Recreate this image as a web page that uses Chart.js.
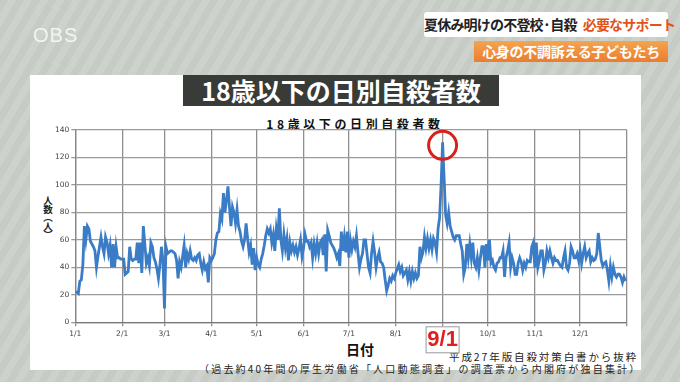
<!DOCTYPE html>
<html>
<head>
<meta charset="utf-8">
<script src="https://cdn.jsdelivr.net/npm/chart.js@4.4.1/dist/chart.umd.min.js"></script>
<style>
    body {
        margin: 0;
        width: 680px;
        height: 382px;
        overflow: hidden;
        position: relative;
        font-family: "Noto Sans CJK JP", "Noto Sans", sans-serif;
        background: repeating-linear-gradient(120deg, #c6cbc5 0 7px, #cdd2cc 7px 14px);
    }
    .abs { position: absolute; white-space: nowrap; }
    #obs { left: 33px; top: 24px; font: 20px "Liberation Sans", sans-serif; color: rgba(255,255,255,0.8); letter-spacing: 1px; }
    #cap1 { left: 424px; top: 12px; width: 244px; height: 25px; background: #fff; border-radius: 3px;
            font-weight: bold; font-size: 14px; line-height: 25px; text-align: center; color: #222; letter-spacing: -0.8px; }
    #cap1 span { color: #e0541c; margin-left: 6px; }
    #cap2 { left: 474px; top: 41px; width: 194px; height: 21px; background: linear-gradient(#f4a450, #eb7d2e);
            font-weight: bold; font-size: 14px; line-height: 21px; text-align: center; color: #fff; letter-spacing: -0.3px; }
    #panel { left: 30px; top: 75px; width: 611px; height: 295px; background: #fff; }
    #heading { left: 183px; top: 75px; width: 316px; height: 31px; background: #383b38; color: #fff;
               font-weight: bold; font-size: 25px; line-height: 31px; text-align: center; }
    #title { left: 0; width: 680px; top: 115px; text-align: center; font-size: 12px; font-weight: bold; letter-spacing: 3.6px; color: #111; padding-left: 30px; box-sizing: border-box; }
    #ytitle { left: 41px; top: 196px; writing-mode: vertical-rl; font-size: 9.5px; font-weight: bold; color: #222; letter-spacing: -1px; }
    #xtitle { left: 346px; top: 339px; font-size: 14px; font-weight: bold; color: #111; }
    #src1 { left: 449px; top: 349px; font-size: 10.5px; color: #222; letter-spacing: 1.9px; }
    #src2 { left: 199px; top: 361px; font-size: 10px; color: #222; letter-spacing: 2.2px; }
    #wrap { left: 30px; top: 106px; width: 611px; height: 264px; }
</style>
</head>
<body>
<div class="abs" id="obs">OBS</div>
<div class="abs" id="cap1">夏休み明けの不登校·自殺<span>必要なサポート</span></div>
<div class="abs" id="cap2">心身の不調訴える子どもたち</div>
<div class="abs" id="panel"></div>
<div class="abs" id="heading">18歳以下の日別自殺者数</div>
<div class="abs" id="title">18歳以下の日別自殺者数</div>
<div class="abs" id="ytitle">人数（人）</div>
<div class="abs" id="xtitle">日付</div>
<div class="abs" id="src1">平成27年版自殺対策白書から抜粋</div>
<div class="abs" id="src2">（過去約40年間の厚生労働省「人口動態調査」の調査票から内閣府が独自集計）</div>
<div class="abs" id="wrap"><canvas id="dailyChart" width="611" height="264"></canvas></div>

<script>
// Day index (0 = 1/1) where each month starts, and the tick text under it
const monthStarts = [0, 31, 59, 90, 120, 151, 181, 212, 243, 273, 304, 334, 365];
const monthLabels = ['1/1', '2/1', '3/1', '4/1', '5/1', '6/1', '7/1', '8/1', '9/1', '10/1', '11/1', '12/1', ''];
const yTicks = [0, 20, 40, 60, 80, 100, 120, 140];
const highlightDay = 243;  // 9/1
const highlightLabel = '9/1';

// Daily counts, one array per month
const jan = [22,22,21,30,31,42,70,60,70,68,59,57,55,52,40,48,55,62,55,50,62,58,50,56,40,57,40,55,47,47,46];
const feb = [46,46,35,36,37,55,46,45,46,46,58,43,58,36,70,57,43,47,41,58,55,47,44,39,32,42,55,45];
const mar = [10,55,50,51,52,52,51,50,45,32,44,40,48,56,40,50,46,52,46,45,47,45,49,50,43,38,44,39,41,29,47];
const apr = [45,47,50,60,65,66,79,75,94,80,89,99,84,70,84,80,72,82,70,66,59,55,60,72,61,51,56,42,54,38];
const may = [47,42,40,46,50,56,63,68,65,68,58,64,52,68,60,83,60,52,64,54,61,45,58,52,56,51,55,49,54,60,48];
const jun = [54,64,59,59,55,58,47,57,50,58,50,58,60,49,64,37,67,63,58,56,54,51,47,50,41,66,52,62,51,66];
const jul = [47,60,53,59,55,63,51,40,46,50,60,60,50,40,36,50,59,51,40,47,51,44,43,40,31,23,27,32,30,34,32];
const aug = [36,39,42,37,40,34,36,38,31,37,30,37,32,36,32,34,55,47,51,62,54,61,54,60,53,61,58,51,68,76,100];
const sep = [131,105,78,72,80,70,66,62,60,63,63,63,57,52,35,40,57,47,57,47,58,43,40,47,38,47,55,55,40,57];
const oct = [45,60,43,45,40,38,43,44,47,47,52,33,47,52,58,40,47,43,35,35,43,47,44,38,43,40,45,44,44,55,58];
const nov = [40,58,40,45,52,52,38,43,52,47,52,47,43,47,45,45,43,41,40,47,52,40,38,43,55,52,47,47,50,45];
const dec = [52,43,50,55,47,50,52,44,47,45,46,50,65,55,45,41,43,44,38,30,41,33,40,35,33,35,35,33,29,33,30];

const daily = [].concat(jan, feb, mar, apr, may, jun, jul, aug, sep, oct, nov, dec);
const points = daily.map((v, i) => ({ x: i, y: v }));

// red ring round the 9/1 peak and the boxed 9/1 label under the axis
const highlightPlugin = {
    id: 'highlight',
    afterDraw(chart) {
        const ctx = chart.ctx;
        const xs = chart.scales.x;
        const ys = chart.scales.y;
        const px = xs.getPixelForValue(highlightDay);
        const py = ys.getPixelForValue(daily[highlightDay]) + 3;
        ctx.save();
        ctx.beginPath();
        ctx.arc(px, py, 14, 0, Math.PI * 2);
        ctx.lineWidth = 3;
        ctx.strokeStyle = '#d8201c';
        ctx.stroke();

        const boxTop = xs.top + 4;
        ctx.fillStyle = '#fff';
        ctx.fillRect(px - 17, boxTop, 34, 27);
        ctx.lineWidth = 1;
        ctx.strokeStyle = '#999';
        ctx.strokeRect(px - 17 + 0.5, boxTop + 0.5, 33, 26);
        ctx.fillStyle = '#e01e1e';
        ctx.font = 'bold 22px "Liberation Sans Narrow", "Liberation Sans", sans-serif';
        ctx.textAlign = 'center';
        ctx.textBaseline = 'middle';
        ctx.fillText(highlightLabel, px, boxTop + 14);
        ctx.restore();
    }
};

new Chart(document.getElementById('dailyChart'), {
    type: 'line',
    data: {
        datasets: [{
            data: points,
            borderColor: '#3a7cc6',
            borderWidth: 2.8,
            pointRadius: 0,
            tension: 0,
            fill: false
        }]
    },
    options: {
        responsive: false,
        animation: false,
        events: [],
        layout: { padding: { left: 0, right: 14, top: 24, bottom: 0 } },
        plugins: { legend: { display: false }, tooltip: { enabled: false } },
        scales: {
            x: {
                type: 'linear',
                min: 0,
                max: 365,
                afterFit: s => { s.height = 47.7; },
                afterBuildTicks: s => { s.ticks = monthStarts.map(v => ({ value: v })); },
                ticks: {
                    autoSkip: false,
                    maxRotation: 0,
                    padding: 3,
                    color: '#444',
                    font: { size: 7.5, family: 'DejaVu Sans' },
                    callback: v => (v === highlightDay ? '' : monthLabels[monthStarts.indexOf(v)])
                },
                grid: { color: '#8f8f8f', lineWidth: 1.3, tickLength: 4 },
                border: { color: '#777', width: 1.3 }
            },
            y: {
                min: 0,
                max: 140,
                afterFit: s => { s.width = 45.3; },
                afterBuildTicks: s => { s.ticks = yTicks.map(v => ({ value: v })); },
                ticks: {
                    padding: 2,
                    color: '#444',
                    font: { size: 7.5, family: 'DejaVu Sans' }
                },
                grid: { color: '#9a9a9a', lineWidth: 1.3, tickLength: 4 },
                border: { color: '#888', width: 1.3 }
            }
        }
    },
    plugins: [highlightPlugin]
});
</script>
</body>
</html>
